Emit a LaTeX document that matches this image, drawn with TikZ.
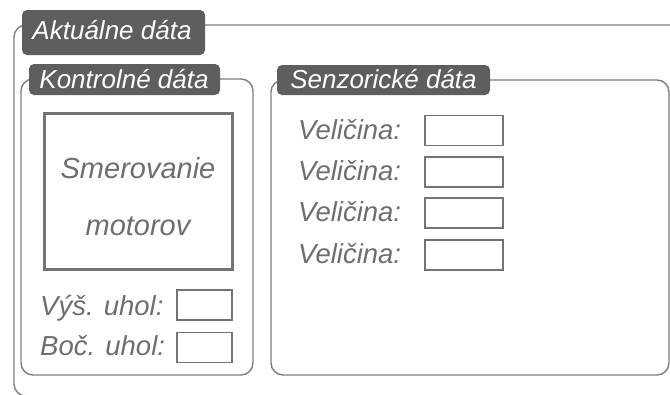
\documentclass[tikz,border=0pt]{standalone}
\usepackage{fontspec}
\setmainfont{Liberation Sans}
\definecolor{framegray}{HTML}{7E7E7E}
\definecolor{tabgray}{HTML}{5E5E5E}
\definecolor{labelgray}{HTML}{6E6E6E}
\definecolor{boxgray}{HTML}{747474}
\tikzset{
  panel/.style={draw=framegray, line width=1.4pt, rounded corners=12pt, inner sep=0pt},
  tabbox/.style={fill=tabgray, draw=none, rounded corners=5pt, inner sep=0pt},
  tabtext/.style={text=white, font=\itshape\fontsize{26}{30}\selectfont, inner sep=0pt},
  label/.style={text=labelgray, font=\itshape\fontsize{27.5}{32}\selectfont, inner sep=0pt},
  valuebox/.style={draw=boxgray, line width=1.3pt, minimum width=55pt, minimum height=30pt, inner sep=0pt},
  widebox/.style={draw=boxgray, line width=1.3pt, minimum width=78pt, minimum height=30pt, inner sep=0pt},
  motorbox/.style={draw=boxgray, line width=3pt, minimum width=188pt, minimum height=156pt, inner sep=0pt}
}
\begin{document}
\begin{tikzpicture}[x=1pt,y=-1pt]
\useasboundingbox (0,0) rectangle (670,394);

% outer frame and the two panels
\node (outer) [panel, minimum width=706pt, minimum height=371pt] at (367,210.5) {};
\node (ctrl) [panel, minimum width=232pt, minimum height=296pt] at (137,227) {};
\node (sens) [panel, minimum width=398pt, minimum height=295pt] at (470,227.5) {};

% title tabs
\node (tabA) [tabbox, minimum width=183pt, minimum height=45pt] at (113.5,32.5) {};
\node (tabAtext) [tabtext, anchor=base] at (112,39) {Aktuálne dáta};
\node (tabK) [tabbox, minimum width=191pt, minimum height=31pt] at (124.5,79.5) {};
\node (tabKtext) [tabtext, anchor=base] at (124,88) {Kontrolné dáta};
\node (tabS) [tabbox, minimum width=213pt, minimum height=30pt] at (383.5,80) {};
\node (tabStext) [tabtext, anchor=base] at (383.5,88.5) {Senzorické dáta};

% control data
\node (motor) [motorbox] at (138,191) {};
\node (motor1) [label, anchor=base, font=\itshape\fontsize{29}{32}\selectfont] at (138,178) {Smerovanie};
\node (motor2) [label, anchor=base, font=\itshape\fontsize{29}{32}\selectfont] at (138,235) {motorov};

\node (vysbox) [valuebox] at (204.5,305) {};
\node (vys) [label, anchor=base west] at (40,315) {Výš. uhol:};
\node (bocbox) [valuebox] at (204.5,347.5) {};
\node (boc) [label, anchor=base west] at (40,355) {Boč. uhol:};

% sensor data
\foreach \i/\y in {1/130.5, 2/172, 3/213, 4/255} {
  \node (velbox\i) [widebox] at (464,\y) {};
  \node (vel\i) [label, anchor=base west] at (298,\y+8.5) {Veličina:};
}
\end{tikzpicture}
\end{document}
